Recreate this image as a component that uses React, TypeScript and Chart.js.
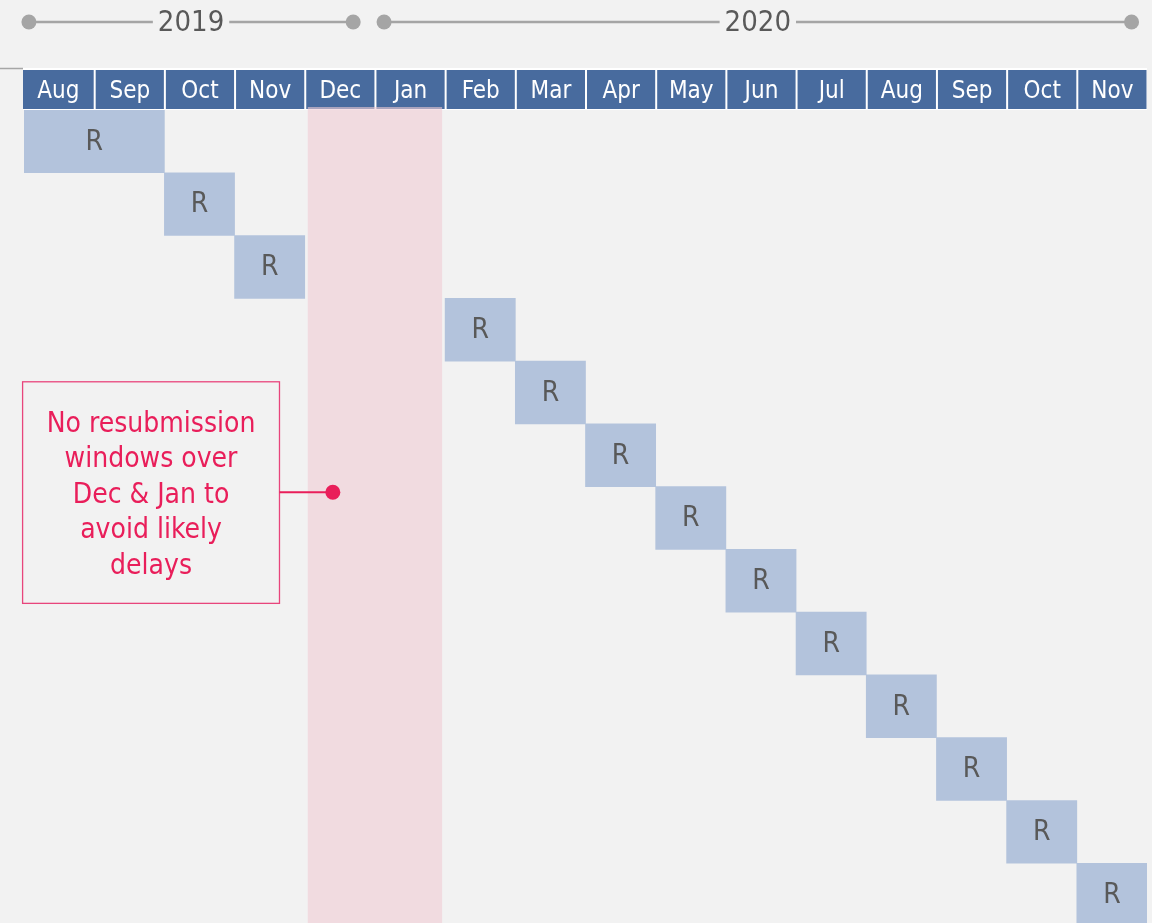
import React, { useEffect, useRef } from "react";
import { Chart, registerables } from "chart.js";

Chart.register(...registerables);

const months = ["Aug", "Sep", "Oct", "Nov", "Dec", "Jan", "Feb", "Mar", "Apr", "May", "Jun", "Jul", "Aug", "Sep", "Oct", "Nov"];
const years = ["2019", "2020"];
const yearStart = [0.07, 5.13];
const yearEnd = [4.69, 15.78];
const rowNames = ["1", "2", "3", "4", "5", "6", "7", "8", "9", "10", "11", "12", "13"];
const windowStart = [0, 2, 3, 6, 7, 8, 9, 10, 11, 12, 13, 14, 15];
const windowEnd = [2, 3, 4, 7, 8, 9, 10, 11, 12, 13, 14, 15, 16];
const windowLabel = "R";
const blackout = [4, 6];
const noteLines = ["No resubmission", "windows over", "Dec & Jan to", "avoid likely", "delays"];

const FONT = "'DejaVu Sans Condensed', 'DejaVu Sans', sans-serif";

const decorPlugin = {
  id: "decor",
  beforeDatasetsDraw(chart: any) {
    const { ctx, chartArea } = chart;
    const xs = chart.scales.x;
    const H = chart.height;
    ctx.save();
    // header strip
    const hTop = 70, hBot = 109;
    ctx.fillStyle = "#ffffff";
    ctx.fillRect(chartArea.left - 1, 68, chartArea.right - chartArea.left + 1, 42);
    ctx.strokeStyle = "#a6a6a6";
    ctx.lineWidth = 1.5;
    ctx.beginPath();
    ctx.moveTo(0, 68.5);
    ctx.lineTo(chartArea.left - 1, 68.5);
    ctx.stroke();
    months.forEach((m, i) => {
      const x0 = i === 0 ? chartArea.left - 1 : xs.getPixelForValue(i) + 1.5;
      const x1 = xs.getPixelForValue(i + 1) - 0.5;
      ctx.fillStyle = "#486b9e";
      ctx.fillRect(x0, hTop, x1 - x0, hBot - hTop);
      ctx.fillStyle = "#ffffff";
      ctx.font = `24px ${FONT}`;
      ctx.textAlign = "center";
      ctx.textBaseline = "middle";
      ctx.fillText(m, (x0 + x1) / 2, (hTop + hBot) / 2 + 2);
    });
    // blackout band
    const bx0 = xs.getPixelForValue(blackout[0]) + 3;
    const bx1 = xs.getPixelForValue(blackout[1]) - 3;
    ctx.fillStyle = "rgba(240,204,212,0.6)";
    ctx.fillRect(bx0, 107, bx1 - bx0, H - 107);

    // year timeline
    const ly = 22;
    years.forEach((y, i) => {
      const a = xs.getPixelForValue(yearStart[i]);
      const b = xs.getPixelForValue(yearEnd[i]);
      ctx.strokeStyle = "#a5a5a5";
      ctx.lineWidth = 2.5;
      ctx.beginPath();
      ctx.moveTo(a, ly);
      ctx.lineTo(b, ly);
      ctx.stroke();
      ctx.fillStyle = "#a5a5a5";
      [a, b].forEach((p) => {
        ctx.beginPath();
        ctx.arc(p, ly, 7.5, 0, Math.PI * 2);
        ctx.fill();
      });
      ctx.font = `29px ${FONT}`;
      const w = ctx.measureText(y).width;
      const c = (a + b) / 2;
      ctx.fillStyle = "#f2f2f2";
      ctx.fillRect(c - w / 2 - 5, ly - 8, w + 10, 16);
      ctx.fillStyle = "#595959";
      ctx.textAlign = "center";
      ctx.textBaseline = "middle";
      ctx.fillText(y, c, ly + 1);
    });
    ctx.restore();
  },
  afterDatasetsDraw(chart: any) {
    const { ctx, chartArea } = chart;
    const xs = chart.scales.x;
    ctx.save();
    const meta = chart.getDatasetMeta(0);
    ctx.fillStyle = "#595959";
    ctx.font = `28px ${FONT}`;
    ctx.textAlign = "center";
    ctx.textBaseline = "middle";
    meta.data.forEach((bar: any) => {
      const p = bar.getProps(["x", "base", "y"], true);
      ctx.fillText(windowLabel, (p.x + p.base) / 2, p.y + 1);
    });

    // annotation
    const rowH = (chartArea.bottom - chartArea.top) / rowNames.length;
    const rowPx = (r: number) => chartArea.top + r * rowH;
    const bx0 = xs.getPixelForValue(-0.02);
    const bx1 = xs.getPixelForValue(3.64);
    const by0 = rowPx(4.33);
    const by1 = rowPx(7.86);
    ctx.strokeStyle = "#e8457c";
    ctx.lineWidth = 1.3;
    ctx.strokeRect(bx0, by0, bx1 - bx0, by1 - by0);
    const dx = xs.getPixelForValue(4.4);
    const dy = rowPx(6.09);
    ctx.strokeStyle = "#e91e5a";
    ctx.lineWidth = 2;
    ctx.beginPath();
    ctx.moveTo(bx1, dy);
    ctx.lineTo(dx, dy);
    ctx.stroke();
    ctx.fillStyle = "#e91e5a";
    ctx.beginPath();
    ctx.arc(dx, dy, 7.5, 0, Math.PI * 2);
    ctx.fill();
    ctx.font = `28px ${FONT}`;
    const lh = 35.5;
    const cx = (bx0 + bx1) / 2;
    const cy = (by0 + by1) / 2 + 3;
    noteLines.forEach((l, i) => {
      ctx.fillText(l, cx, cy + (i - (noteLines.length - 1) / 2) * lh);
    });
    ctx.restore();
  },
};

export default function App() {
  const ref = useRef<HTMLCanvasElement>(null);
  useEffect(() => {
    document.body.style.margin = "0";
    document.body.style.overflow = "hidden";
    document.body.style.background = "#f2f2f2";
    const chart = new Chart(ref.current!, {
      type: "bar",
      data: {
        labels: rowNames,
        datasets: [
          {
            data: windowStart.map((s, i) => [s, windowEnd[i]]) as any,
            backgroundColor: "#b3c3dc",
            borderWidth: 0,
            barPercentage: 1,
            categoryPercentage: 1,
          },
        ],
      },
      options: {
        indexAxis: "y",
        responsive: false,
        animation: false,
        layout: { padding: { top: 110, left: 24, right: 5, bottom: 0 } },
        plugins: { legend: { display: false }, tooltip: { enabled: false } },
        scales: {
          x: { type: "linear", min: 0, max: 16, display: false },
          y: { type: "category", display: false },
        },
      },
      plugins: [decorPlugin],
    });
    return () => chart.destroy();
  }, []);
  return (
    <div style={{ width: 1152, height: 923, overflow: "hidden", background: "#f2f2f2" }}>
      <canvas ref={ref} width={1152} height={926} style={{ display: "block" }} />
    </div>
  );
}
